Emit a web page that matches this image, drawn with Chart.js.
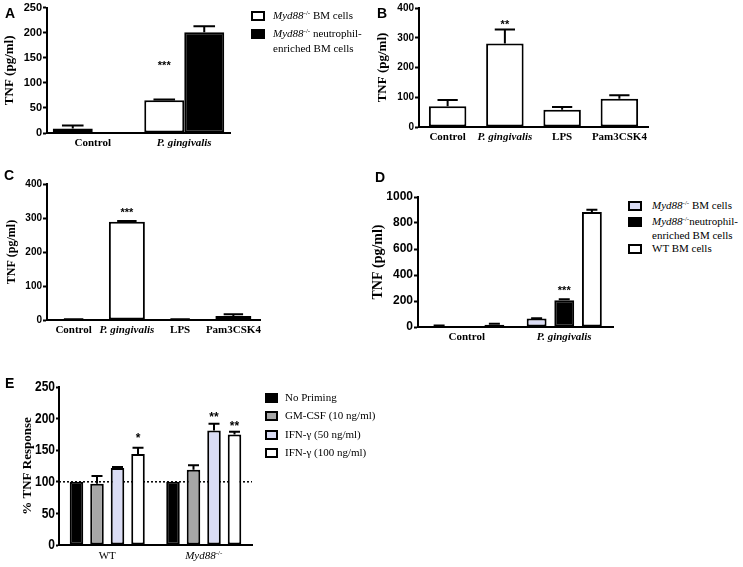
<!DOCTYPE html>
<html><head><meta charset="utf-8">
<script src="https://cdn.jsdelivr.net/npm/chart.js@4.4.1/dist/chart.umd.min.js"></script>
<style>
html,body{margin:0;padding:0;background:#fff;}
body{width:743px;height:567px;position:relative;overflow:hidden;font-family:'Liberation Serif','Times New Roman',serif;color:#000;}
canvas{position:absolute;}
.letter{position:absolute;font:bold 14px/14px 'Liberation Sans',Arial,sans-serif;}
.leg{position:absolute;font-size:11px;line-height:15px;white-space:nowrap;}
.sw{position:absolute;box-sizing:border-box;border:2px solid #000;}
sup{font-size:7px;line-height:0;vertical-align:0;position:relative;top:-4px;}
</style></head><body>
<canvas id="cA" width="245" height="160" style="left:0;top:0"></canvas>
<canvas id="cB" width="290" height="160" style="left:370px;top:0"></canvas>
<canvas id="cC" width="280" height="190" style="left:0;top:160px"></canvas>
<canvas id="cD" width="250" height="190" style="left:370px;top:160px"></canvas>
<canvas id="cE" width="260" height="197" style="left:0;top:370px"></canvas>

<div class="letter" style="left:5px;top:6px">A</div>
<div class="letter" style="left:377px;top:6px">B</div>
<div class="letter" style="left:4px;top:168px">C</div>
<div class="letter" style="left:375px;top:170px">D</div>
<div class="letter" style="left:5px;top:376px">E</div>

<!-- Legend A -->
<div class="sw" style="left:251px;top:11px;width:14px;height:10px;background:#fff"></div>
<div class="leg" style="left:273px;top:8px"><i>Myd88</i><sup>-/-</sup> BM cells</div>
<div class="sw" style="left:251px;top:29px;width:14px;height:10px;background:#000"></div>
<div class="leg" style="left:273px;top:26px"><i>Myd88</i><sup>-/-</sup> neutrophil-<br>enriched BM cells</div>

<!-- Legend D -->
<div class="sw" style="left:628px;top:201px;width:14px;height:10px;background:#dadcf4"></div>
<div class="leg" style="left:652px;top:198px"><i>Myd88</i><sup>-/-</sup> BM cells</div>
<div class="sw" style="left:628px;top:217px;width:14px;height:10px;background:#000"></div>
<div class="leg" style="left:652px;top:214px;line-height:14px"><i>Myd88</i><sup>-/-</sup>neutrophil-<br>enriched BM cells</div>
<div class="sw" style="left:628px;top:244px;width:14px;height:10px;background:#fff"></div>
<div class="leg" style="left:652px;top:241px">WT BM cells</div>

<!-- Legend E -->
<div class="sw" style="left:265px;top:393px;width:13px;height:10px;background:#000"></div>
<div class="leg" style="left:285px;top:390px">No Priming</div>
<div class="sw" style="left:265px;top:411px;width:13px;height:10px;background:#a6a6a6"></div>
<div class="leg" style="left:285px;top:408px">GM-CSF (10 ng/ml)</div>
<div class="sw" style="left:265px;top:430px;width:13px;height:10px;background:#dadcf4"></div>
<div class="leg" style="left:285px;top:427px">IFN-γ (50 ng/ml)</div>
<div class="sw" style="left:265px;top:448px;width:13px;height:10px;background:#fff"></div>
<div class="leg" style="left:285px;top:445px">IFN-γ (100 ng/ml)</div>

<script>
// ---------------- data ----------------
const catsA = ['Control', 'P. gingivalis'];
const aBM = [9, 65.5];
const aBMErr = [6, 1.5];
const aNeu = [null, 201];
const aNeuErr = [null, 12];
const sigA = [{ds: 0, i: 1, text: '***', at: 141}];

const catsB = ['Control', 'P. gingivalis', 'LPS', 'Pam3CSK4'];
const bTNF = [70, 281, 58, 95];
const bErr = [21, 47, 9, 12];
const sigB = [{ds: 0, i: 1, text: '**', at: 354}];

const catsC = ['Control', 'P. gingivalis', 'LPS', 'Pam3CSK4'];
const cTNF = [1.5, 289, 2, 12];
const cErr = [0.5, 2, 0.5, 5];
const sigC = [{ds: 0, i: 1, text: '***', at: 323}];

const catsD = ['Control', 'P. gingivalis'];
const dMyd = [8, 65];
const dMydErr = [4, 3];
const dNeu = [null, 205];
const dNeuErr = [null, 8];
const dWT = [18, 885];
const dWTErr = [7, 17];
const sigD = [{ds: 1, i: 1, text: '***', at: 300}];

const catsE = ['WT', 'Myd88'];
const eNone = [100, 100];
const eNoneErr = [0, 0];
const eGM = [97, 119];
const eGMErr = [12, 7];
const eIFN50 = [122, 181];
const eIFN50Err = [1.5, 11];
const eIFN100 = [144, 175];
const eIFN100Err = [10, 4];
const sigE = [{ds: 3, i: 0, text: '*', at: 174}, {ds: 2, i: 1, text: '**', at: 207}, {ds: 3, i: 1, text: '**', at: 193}];
const refE = 100;

const SERIF = "'Liberation Serif','Times New Roman',serif";
const SANS = "'Liberation Sans',Arial,sans-serif";
const LAV = '#dadcf4', GRAY = '#a6a6a6';

// ---------------- plugins ----------------
const errPlugin = {
  id: 'errbars',
  afterDatasetsDraw(chart) {
    const ctx = chart.ctx, ys = chart.scales.y;
    ctx.save(); ctx.strokeStyle = '#000'; ctx.lineWidth = 2;
    chart.data.datasets.forEach((ds, di) => {
      if (!ds.err) return;
      chart.getDatasetMeta(di).data.forEach((el, i) => {
        const v = ds.data[i], e = ds.err[i];
        if (v == null || !e) return;
        const y0 = ys.getPixelForValue(v), y1 = ys.getPixelForValue(v + e);
        const half = Math.max(el.width * 0.27, 5.5);
        ctx.beginPath();
        ctx.moveTo(el.x, y0); ctx.lineTo(el.x, y1);
        ctx.moveTo(el.x - half, y1); ctx.lineTo(el.x + half, y1);
        ctx.stroke();
      });
    });
    ctx.restore();
  }
};
const sigPlugin = {
  id: 'sig',
  afterDatasetsDraw(chart, args, opts) {
    const ctx = chart.ctx, ys = chart.scales.y, size = opts.size || 11;
    ctx.save(); ctx.fillStyle = '#000'; ctx.textAlign = 'center'; ctx.textBaseline = 'alphabetic';
    ctx.font = 'bold ' + size + 'px ' + SANS;
    (opts.items || []).forEach(s => {
      const el = chart.getDatasetMeta(s.ds).data[s.i];
      ctx.fillText(s.text, el.x, ys.getPixelForValue(s.at) + size * 0.57);
    });
    ctx.restore();
  }
};
const refPlugin = {
  id: 'refline',
  beforeDatasetsDraw(chart, args, opts) {
    if (opts.value == null) return;
    const ctx = chart.ctx, a = chart.chartArea, y = chart.scales.y.getPixelForValue(opts.value);
    ctx.save(); ctx.strokeStyle = '#000'; ctx.lineWidth = 1.5; ctx.setLineDash([2, 2]);
    ctx.beginPath(); ctx.moveTo(a.left, y); ctx.lineTo(a.right, y); ctx.stroke(); ctx.restore();
  }
};
// condensed y tick labels (panel E), drawn from the scale's own ticks
const condTicks = {
  id: 'condticks',
  afterDraw(chart, args, opts) {
    if (!opts.size) return;
    const ctx = chart.ctx, ys = chart.scales.y;
    ctx.save(); ctx.fillStyle = '#000'; ctx.textAlign = 'right'; ctx.textBaseline = 'middle';
    ctx.font = 'bold ' + opts.size + 'px ' + SANS;
    ys.ticks.forEach(t => {
      ctx.save();
      ctx.translate(ys.right - opts.gap, ys.getPixelForValue(t.value));
      ctx.scale(opts.squeeze, 1);
      ctx.fillText(String(t.value), 0, 0);
      ctx.restore();
    });
    ctx.restore();
  }
};
const richX = {
  id: 'richx',
  afterDraw(chart, args, opts) {
    if (!opts.parts) return;
    const ctx = chart.ctx, xs = chart.scales.x, size = opts.size || 11;
    ctx.save(); ctx.fillStyle = '#000'; ctx.textBaseline = 'alphabetic';
    opts.parts.forEach((parts, i) => {
      const fonts = parts.map(p => (p.italic ? 'italic ' : '') + (p.sup ? Math.round(size * 0.65) : size) + 'px ' + SERIF);
      let w = 0;
      parts.forEach((p, k) => { ctx.font = fonts[k]; w += ctx.measureText(p.t).width; });
      let x = xs.getPixelForTick(i) - w / 2;
      const base = xs.top + opts.offset;
      parts.forEach((p, k) => {
        ctx.font = fonts[k]; ctx.textAlign = 'left';
        ctx.fillText(p.t, x, p.sup ? base - size * 0.4 : base);
        x += ctx.measureText(p.t).width;
      });
    });
    ctx.restore();
  }
};

function bar(data, err, color, cat, barP) {
  return {data, err, backgroundColor: color, borderColor: '#000', borderWidth: 2, borderSkipped: false,
    categoryPercentage: cat, barPercentage: barP};
}

function make(id, o) {
  return new Chart(document.getElementById(id), {
    type: 'bar',
    data: {labels: o.labels, datasets: o.datasets},
    options: {
      responsive: false, animation: false, events: [],
      layout: {padding: {left: 0, top: o.top, right: o.right, bottom: 0}},
      plugins: {legend: {display: false}, tooltip: {enabled: false},
        sig: {items: o.sig, size: o.sigSize || 11}, refline: {value: o.ref}, richx: {parts: o.rich, offset: 14, size: 11},
        condticks: o.cond || {}},
      scales: {
        x: {type: 'category', offset: true,
          grid: {display: false, drawTicks: false},
          border: {display: true, color: '#000', width: 2},
          ticks: {display: !o.rich, color: '#000', padding: 4, maxRotation: 0, autoSkip: false,
            font: (c) => ({family: SERIF, size: 11, weight: 'bold', style: (o.italic && o.italic[c.index]) ? 'italic' : 'normal'})},
          afterFit: (s) => { s.height = o.xh; }},
        y: {min: 0, max: o.max,
          ticks: {display: !o.cond, stepSize: o.step, color: '#000', padding: 1, font: {family: SANS, size: o.tsize, weight: 'bold'},
            callback: (v) => String(v)},
          grid: {display: true, drawOnChartArea: false, drawTicks: true, tickLength: o.tickLen || 4, tickWidth: 2, tickColor: '#000'},
          border: {display: true, color: '#000', width: 2},
          title: {display: true, text: o.ytitle, color: '#000',
            font: {family: SERIF, size: o.titleSize, weight: 'bold'}, padding: {top: o.titlePad, bottom: 0}},
          afterFit: (s) => { s.width = o.yw; }}
      }
    },
    plugins: [errPlugin, sigPlugin, refPlugin, richX, condTicks]
  });
}

make('cA', {labels: catsA, italic: [false, true], top: 7, right: 15, xh: 27, yw: 47, max: 250, step: 50, tsize: 11,
  ytitle: 'TNF (pg/ml)', titleSize: 13, titlePad: 2, sig: sigA,
  datasets: [bar(aBM, aBMErr, '#fff', 0.874, 1), bar(aNeu, aNeuErr, '#000', 0.874, 1)]});

make('cB', {labels: catsB, italic: [false, true, false, false], top: 8, right: 12, xh: 33, yw: 49, max: 400, step: 100, tsize: 10,
  ytitle: 'TNF (pg/ml)', titleSize: 13, titlePad: 5, sig: sigB,
  datasets: [bar(bTNF, bErr, '#fff', 1, 0.655)]});

make('cC', {labels: catsC, italic: [false, true, false, false], top: 24, right: 20, xh: 30, yw: 47, max: 400, step: 100, tsize: 10,
  ytitle: 'TNF (pg/ml)', titleSize: 12, titlePad: 5, sig: sigC,
  datasets: [bar(cTNF, cErr, '#fff', 1, 0.676)]});

make('cD', {labels: catsD, italic: [false, true], top: 37, right: 7, xh: 23, yw: 48, max: 1000, step: 200, tsize: 12,
  ytitle: 'TNF (pg/ml)', titleSize: 14, titlePad: 0, sig: sigD,
  datasets: [bar(dMyd, dMydErr, LAV, 0.85, 0.72), bar(dNeu, dNeuErr, '#000', 0.85, 0.72), bar(dWT, dWTErr, '#fff', 0.85, 0.72)]});

make('cE', {labels: catsE, top: 17, right: 8, xh: 22, yw: 59, max: 250, step: 50, tsize: 12, tickLen: 3,
  cond: {size: 15, squeeze: 0.8, gap: 4},
  ytitle: '% TNF Response', titleSize: 13, titlePad: 20, sig: sigE, sigSize: 12, ref: refE,
  rich: [[{t: 'WT'}], [{t: 'Myd88', italic: true}, {t: '-/-', sup: true}]],
  datasets: [bar(eNone, eNoneErr, '#000', 0.85, 0.66), bar(eGM, eGMErr, GRAY, 0.85, 0.66),
             bar(eIFN50, eIFN50Err, LAV, 0.85, 0.66), bar(eIFN100, eIFN100Err, '#fff', 0.85, 0.66)]});
</script>
</body></html>
